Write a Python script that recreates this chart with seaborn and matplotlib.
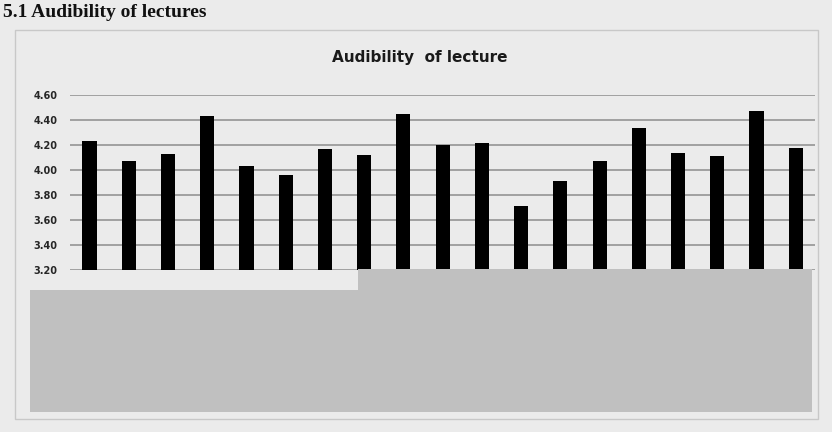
import pandas as pd
import seaborn as sns
import matplotlib.pyplot as plt
from matplotlib.patches import Rectangle

# values (x labels are covered in the source)
items = [str(i) for i in range(1, 20)]
scores = [4.23, 4.07, 4.13, 4.43, 4.03, 3.96, 4.17, 4.12, 4.45, 4.20,
          4.22, 3.71, 3.91, 4.07, 4.34, 4.14, 4.11, 4.47, 4.18]
yticks = [3.20, 3.40, 3.60, 3.80, 4.00, 4.20, 4.40, 4.60]

df = pd.DataFrame({'item': items, 'score': scores})

sns.set_style('white')
plt.rcParams['font.family'] = ['DejaVu Sans']

paper = '#ebebeb'
fig = plt.figure(figsize=(8.32, 4.32), dpi=100, facecolor=paper)
ax = fig.add_axes([0.084, 0.375, 0.896, 0.405])
ax.set_facecolor(paper)

sns.barplot(data=df, x='item', y='score', color='black', width=0.36,
            saturation=1, edgecolor='black', linewidth=0, ax=ax, zorder=3)

ax.set_ylim(3.20, 4.60)
ax.set_yticks(yticks)
ax.set_yticklabels([f'{t:.2f}' for t in yticks], fontsize=7, fontweight='bold')
ax.yaxis.grid(True, color='#8c8c8c', linewidth=1.1, zorder=0)
ax.set_axisbelow(True)
ax.set_xticklabels([])
ax.tick_params(axis='y', length=0, pad=9)
ax.tick_params(axis='x', length=0)
ax.set_xlabel('')
ax.set_ylabel('')
sns.despine(ax=ax, left=True, bottom=True, top=True, right=True)

fig.text(0.505, 0.868, 'Audibility  of lecture', ha='center', va='center',
         fontsize=11, fontweight='bold', color='#1a1a1a')
fig.text(0.004, 0.972, '5.1 Audibility of lectures', ha='left', va='center',
         fontsize=14, fontweight='bold', family='Liberation Serif', color='#111111')

# chart frame
fig.patches.append(Rectangle((0.018, 0.03), 0.965, 0.9, transform=fig.transFigure,
                             fill=False, edgecolor='#c8c8c8', linewidth=1))

# grey boxes covering the category labels
fig.patches.append(Rectangle((30 / 832, 20 / 432), 328 / 832, 122 / 432,
                             transform=fig.transFigure, facecolor='#c0c0c0',
                             edgecolor='none', zorder=10))
fig.patches.append(Rectangle((358 / 832, 20 / 432), 454 / 832, 143 / 432,
                             transform=fig.transFigure, facecolor='#c0c0c0',
                             edgecolor='none', zorder=10))

fig.savefig('out.png', dpi=100, facecolor=paper)
